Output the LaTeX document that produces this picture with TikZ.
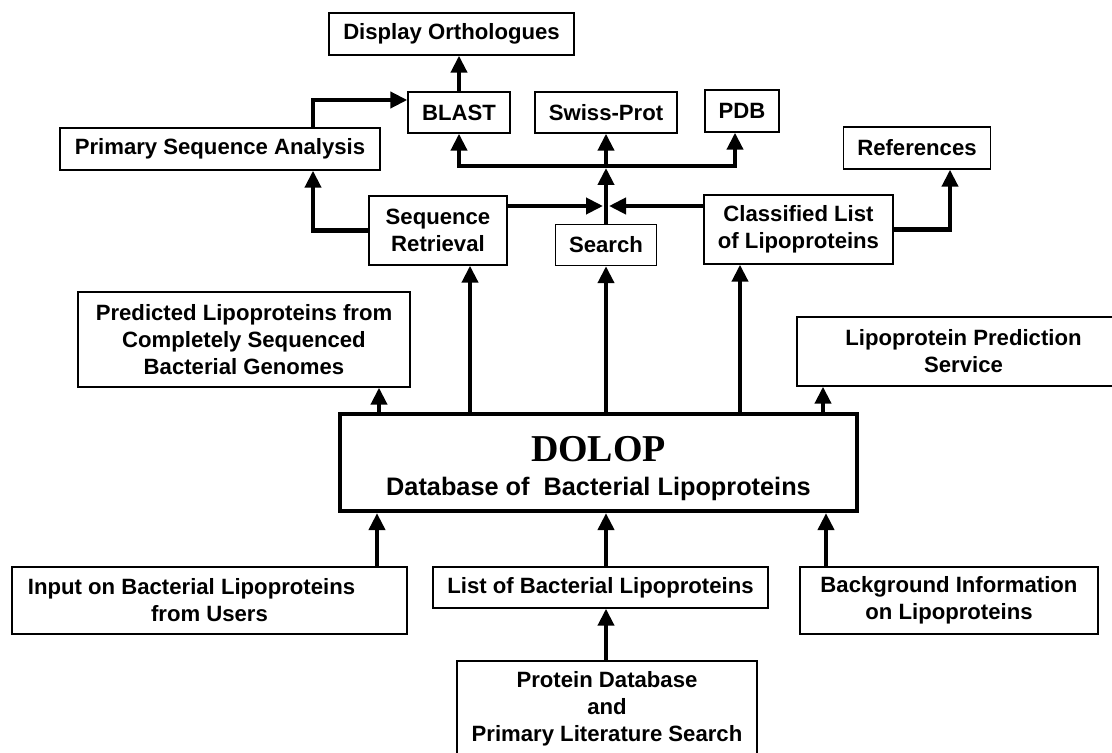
\documentclass[tikz,border=0pt]{standalone}
\usepackage{fontspec}
\setmainfont{Liberation Sans}
\newfontfamily\serifbold{Liberation Serif}
\usepackage{tikz}
\usetikzlibrary{arrows.meta}

\newcommand{\boxfont}{\fontsize{12.6}{15.4}\selectfont\bfseries}
\tikzset{
  box/.style={draw, line width=0.8pt, inner sep=0pt, align=center, font=\boxfont},
  sz/.style 2 args={minimum width=#1*0.02cm, minimum height=#2*0.02cm},
  arr/.style={line width=2.3pt, -{Triangle[length=0.34cm,width=0.32cm]}},
}

\begin{document}
\begin{tikzpicture}[x=0.02cm, y=-0.02cm]
\useasboundingbox (0,0) rectangle (1112,753);
\clip (0,0) rectangle (1112,753);

\node[box, sz={245}{42}] (disp) at (451.5,34) {Display Orthologues};
\node[box, sz={102}{41}] (blast) at (459,112.5) {BLAST};
\node[box, sz={142}{41}] (swiss) at (606,112.5) {Swiss-Prot};
\node[box, sz={74}{42}] (pdb) at (742,111) {PDB};
\node[box, sz={320}{42}] (psa) at (220,149) {Primary Sequence Analysis};
\node[box, sz={147}{42}] (refs) at (917,148) {References};
\node[box, sz={138}{69}] (seq) at (438,230.5) {Sequence\\Retrieval};
\node[box, sz={101}{41}] (search) at (606,245) {Search};
\node[box, sz={189}{69}] (class) at (798.5,229.5) {Classified List\\of Lipoproteins};
\node[box, sz={332}{95}] (pred) at (244,339.5) {Predicted Lipoproteins from\\Completely Sequenced\\Bacterial Genomes};
\node[box, sz={333}{69}] (lps) at (963.5,351.5) {Lipoprotein Prediction\\Service};
\node[box, line width=2.4pt, sz={517}{97}] (dolop) at (598.5,462.5)
  {{\serifbold\fontsize{21.6}{22}\selectfont\rule{0pt}{21pt}DOLOP}\\[4pt]
   {\fontsize{14.4}{16}\selectfont Database of~~Bacterial Lipoproteins}};
\node[box, sz={395}{67}] (input) at (209.5,600.5) {Input on Bacterial Lipoproteins\hspace*{0.72cm}\\from Users};
\node[box, sz={335}{41}] (list) at (600.5,587.5) {List of Bacterial Lipoproteins};
\node[box, sz={298}{67}] (back) at (949,600.5) {Background Information\\on Lipoproteins};
\node[box, sz={300}{96}] (pdbsrc) at (607,709) {Protein Database\\and\\Primary Literature Search};

\coordinate (hub) at (606,166);
\coordinate (mid) at (606,206);
\coordinate (k1) at (313,100);
\coordinate (k2) at (950,0);
\coordinate (pc) at (379,0);
\coordinate (sc) at (470,0);
\coordinate (cc) at (740,0);
\coordinate (lc) at (823,0);
\coordinate (ic) at (377,0);
\coordinate (bc) at (826,0);

\draw[arr] (blast.north) -- (disp.south -| blast.north);
\draw[arr] (k1 |- psa.north) -- (k1) -- (k1 -| blast.west);
\draw[arr] (search.north) -- ([yshift=-0.04cm]hub);
\draw[arr] (hub) -- (swiss.south);
\draw[arr] (hub) -| (blast.south);
\draw[arr] (hub) -| ([xshift=-0.14cm]pdb.south);
\draw[arr] (seq.east |- mid) -- ([xshift=-0.06cm]mid);
\draw[arr] (class.west |- mid) -- ([xshift=0.06cm]mid);
\draw[arr] (seq.west) -| (k1 |- psa.south);
\draw[arr] (class.east) -| (k2 |- refs.south);

\draw[arr] (dolop.north -| pc) -- (pred.south -| pc);
\draw[arr] (dolop.north -| sc) -- (seq.south -| sc);
\draw[arr] (dolop.north -| search) -- (search.south);
\draw[arr] (dolop.north -| cc) -- (class.south -| cc);
\draw[arr] (dolop.north -| lc) -- (lps.south -| lc);

\draw[arr] (input.north -| ic) -- (dolop.south -| ic);
\draw[arr] (list.north -| search) -- (dolop.south -| search);
\draw[arr] (back.north -| bc) -- (dolop.south -| bc);
\draw[arr] (pdbsrc.north -| search) -- (list.south -| search);

\end{tikzpicture}
\end{document}
